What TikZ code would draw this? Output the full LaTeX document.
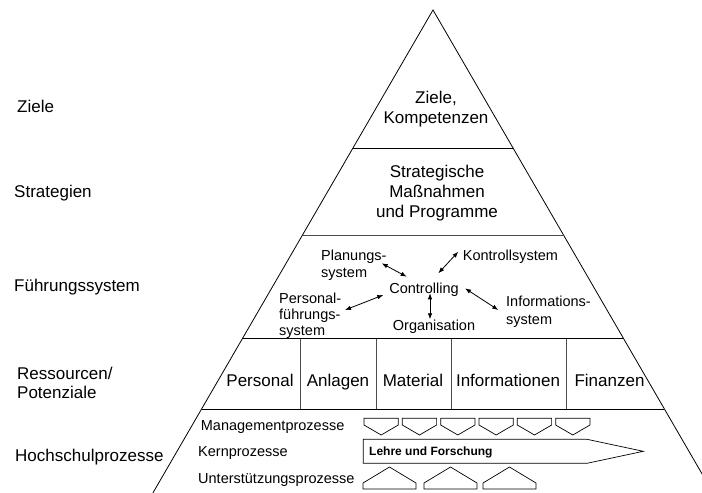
\documentclass[tikz,border=0pt]{standalone}
\usepackage{fontspec}
\setmainfont{Liberation Sans}
\usetikzlibrary{arrows.meta}
\begin{document}
\begin{tikzpicture}[x=1pt,y=-1pt,
  outline/.style={line width=0.8pt,black},
  divider/.style={line width=0.8pt,black!70},
  txtL/.style={font=\fontsize{17}{20}\selectfont,inner sep=0pt,align=center},
  txtLeft/.style={font=\fontsize{17}{19}\selectfont,inner sep=0pt,align=left,anchor=base west},
  txtM/.style={font=\fontsize{14.5}{17.5}\selectfont,inner sep=0pt,align=left},
  txtS/.style={font=\fontsize{14.5}{16}\selectfont,inner sep=0pt,anchor=base west},
  txtB/.style={font=\fontsize{12}{14}\selectfont\bfseries,inner sep=0pt,anchor=base west},
  link/.style={line width=0.8pt,{Latex[length=6pt,width=4.5pt]}-{Latex[length=6pt,width=4.5pt]}},
  procbox/.style={line width=0.7pt,black}]
\clip (0,0) rectangle (702,493);
\fill[white] (0,0) rectangle (702,493);

% pyramid outline
\coordinate (apex) at (433,10);
\coordinate (bl) at ({433-0.58*483},493);
\coordinate (br) at ({433+0.58*483},493);
\draw[outline] (bl) -- (apex) -- (br);

% layer boundaries
\foreach \yy/\sty in {148/outline,235/divider,338.5/outline,409/outline}
  \draw[\sty] ({433-0.58*(\yy-10)},\yy) -- ({433+0.58*(\yy-10)},\yy);

% resource compartments
\foreach \xx in {300,376.7,451,566.7}
  \draw[divider] (\xx,338.5) -- (\xx,409);

% level labels (multi-line nodes sit on the baseline of their last line)
\node[txtLeft] (lZiele) at (17,112.5) {Ziele};
\node[txtLeft] (lStrat) at (14,197.5) {Strategien};
\node[txtLeft] (lFuehr) at (14,291) {Führungssystem};
\node[txtLeft] (lRess) at (17,398.3) {Ressourcen/\\Potenziale};
\node[txtLeft] (lProz) at (15,461) {Hochschulprozesse};

% top layers
\node[txtL,anchor=base] (ziele) at (436,123) {Ziele,\\Kompetenzen};
\node[txtL,anchor=base] (strat) at (437,217.7) {Strategische\\Maßnahmen\\und Programme};

% management system
\node[txtM,anchor=base] (ctrl) at (424,293.2) {Controlling};
\node[txtM,anchor=base west] (plan) at (321,277.9) {Planungs-\\system};
\node[txtM,anchor=base west] (kontr) at (462.7,260.2) {Kontrollsystem};
\node[txtM,anchor=base west,font=\fontsize{14.5}{16.3}\selectfont] (pers) at (279,335.8) {Personal-\\führungs-\\system};
\node[txtM,anchor=base west,font=\fontsize{14.5}{18}\selectfont] (info) at (506,324.2) {Informations-\\system};
\node[txtM,anchor=base] (orga) at (434,330.2) {Organisation};

\coordinate (planA) at (381.7,263.3);  \coordinate (planB) at (406.7,276.7);
\coordinate (kontrA) at (458.3,251.7); \coordinate (kontrB) at (438.3,273.3);
\coordinate (persA) at (345,310);      \coordinate (persB) at (383.3,295);
\coordinate (infoA) at (498.3,310);    \coordinate (infoB) at (465,288.3);
\coordinate (orgaA) at (430,319.3);    \coordinate (orgaB) at (430,293.3);
\draw[link] (planA) -- (planB);
\draw[link] (kontrA) -- (kontrB);
\draw[link] (persA) -- (persB);
\draw[link] (infoA) -- (infoB);
\draw[link] (orgaA) -- (orgaB);

% resources
\node[txtL,anchor=base] (rPers) at (260,386.1) {Personal};
\node[txtL,anchor=base] (rAnl) at (338,386.1) {Anlagen};
\node[txtL,anchor=base] (rMat) at (413,386.1) {Material};
\node[txtL,anchor=base] (rInf) at (508,386.1) {Informationen};
\node[txtL,anchor=base] (rFin) at (609.5,386.1) {Finanzen};

% university processes
\node[txtS] (pMan) at (200.7,430) {Managementprozesse};
\node[txtS] (pKern) at (198,456) {Kernprozesse};
\node[txtS] (pUnt) at (198,483.3) {Unterstützungsprozesse};

\foreach \i in {0,...,5}{
  \pgfmathsetmacro{\xl}{364+38.33*\i}
  \draw[procbox] (\xl,418.3) -- ({\xl+34.3},418.3) -- ({\xl+34.3},425)
    -- ({\xl+17.15},435) -- (\xl,425) -- cycle;
}
\draw[procbox] (363.3,439.3) -- (587,439.3) -- (643.3,451.3) -- (587,463.3)
  -- (363.3,463.3) -- cycle;
\node[txtB] (lehre) at (369,455.3) {Lehre und Forschung};

\foreach \xl in {363,424,483}{
  \draw[procbox] (\xl,489) -- (\xl,483) -- ({\xl+26.5},467) -- ({\xl+53},483)
    -- ({\xl+53},489) -- cycle;
}
\end{tikzpicture}
\end{document}
